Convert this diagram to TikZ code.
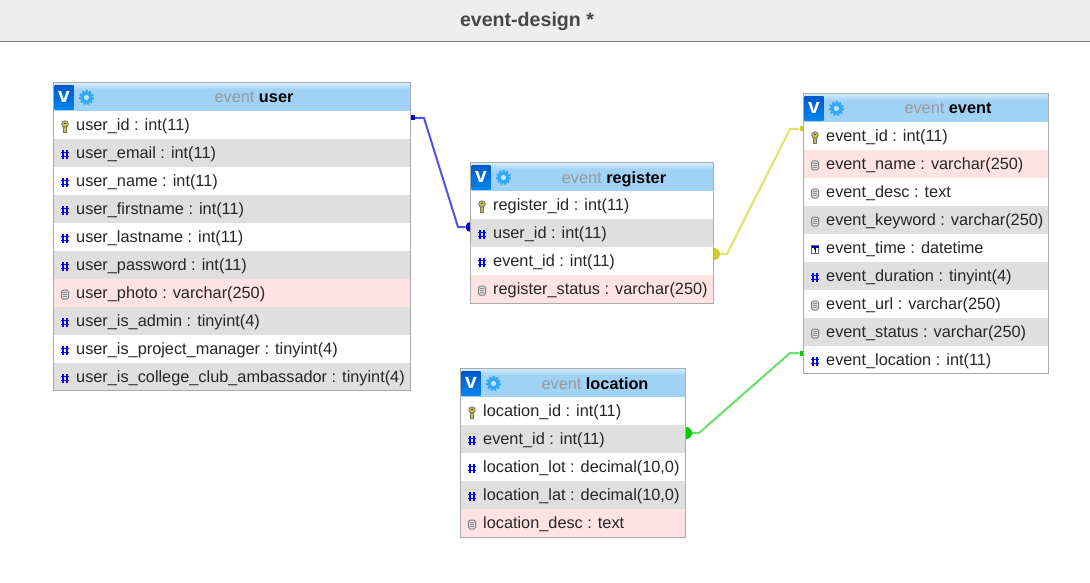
\documentclass[tikz,border=0pt]{standalone}
\usepackage{fontspec}
\setmainfont{Liberation Sans}
\usepackage{xcolor}
\definecolor{rowplain}{HTML}{FFFFFF}
\definecolor{rowgrey}{HTML}{DFDFDF}
\definecolor{rowpink}{HTML}{FFE3E3}
\definecolor{headblue}{HTML}{A0D2F5}
\definecolor{headlight}{HTML}{D4EBFB}
\definecolor{boxblue}{HTML}{0068EE}
\definecolor{gearblue}{HTML}{2FA9F8}
\definecolor{framegrey}{HTML}{AAAAAA}
\definecolor{barcol}{HTML}{EEEEEE}
\definecolor{barline}{HTML}{777777}
\definecolor{bluelink}{HTML}{5252E0}
\definecolor{yellowlink}{HTML}{E2E268}
\definecolor{greenlink}{HTML}{66E066}
\definecolor{keyyellow}{HTML}{C8C040}

\tikzset{
    rowtext/.style={anchor=base west, inner sep=0pt, font=\fontsize{16.3}{19}\selectfont, text=black!85},
    headtext/.style={anchor=base, inner sep=0pt, font=\fontsize{16.3}{19}\selectfont},
    endsquare/.style={rectangle, inner sep=0pt, minimum size=5pt},
    enddot/.style={circle, inner sep=0pt, minimum size=12pt},
    link/.style={line width=2pt},
    pics/keyicon/.style={code={
        \draw[fill=keyyellow, draw=black!55, line width=.8pt] (-1.6,-1) rectangle (1.6,5.5);
        \draw[fill=keyyellow, draw=black!55, line width=.8pt] (0,-2.5) ellipse (3.3 and 3.2);
        \fill[black!70] (-1,-3.6) rectangle (1,-2.5);
    }},
    pics/hashicon/.style={code={
        \draw[blue, line width=1.5pt] (-2,-4.5) -- (-2,4.5) (2,-4.5) -- (2,4.5)
            (-4,-2) -- (4,-2) (-4,2) -- (4,2);
    }},
    pics/texticon/.style={code={
        \draw[fill=black!12, draw=black!50, line width=1pt, rounded corners=1.5pt] (-3.5,-4.5) rectangle (3.5,4.5);
        \draw[black!45, line width=.8pt] (-2,-2) -- (2,-2) (-2,0) -- (2,0) (-2,2) -- (2,2);
    }},
    pics/dateicon/.style={code={
        \draw[fill=white, draw=black!60, line width=.8pt] (-3.5,-4) rectangle (3.5,4);
        \fill[blue!75!black] (-3.5,-4) rectangle (3.5,-1.8);
        \draw[black, line width=1pt] (-.8,-.6) -- (.3,-.9) -- (.3,3);
    }},
    pics/boxicon/.style={code={
        \shade[top color=boxblue!85!black, bottom color=boxblue!80!cyan] (0,0) rectangle (19,24);
        \node[inner sep=0pt, text=white, font=\bfseries\fontsize{21}{21}\selectfont] (#1-v) at (9.5,11) {v};
        \draw[gearblue, line width=2pt, dash pattern=on 2pt off 1.7pt] (32,12) circle (6.5);
        \fill[gearblue] (32,12) circle (6);
        \fill[headblue!60!white] (32,12) circle (2.6);
    }}
}

% name, x, y, width, height, title, rows
\newcommand{\dbtable}[7]{
    \fill[headblue] (#2,#3) rectangle ++(#4,29);
    \shade[top color=headlight, bottom color=headblue] (#2,#3) rectangle ++(#4,7);
    \pic at (#2+1,#3+3) {boxicon=#1};
    \node[headtext] (#1-head) at (#2+#4/2+22,#3+20.5) {\textcolor{black!40}{event} \textbf{\textcolor{black}{#6}}};
    \foreach \kind/\rowfill/\rowlabel [count=\i] in {#7}{
        \fill[\rowfill] (#2,#3+.5+28*\i) rectangle ++(#4,28);
        \pic at (#2+11.5,#3+16+28*\i) {\kind};
        \node[rowtext] (#1-\i) at (#2+22.5,#3+20+28*\i) {\rowlabel};
    }
    \draw[framegrey, line width=1pt] (#2,#3) rectangle ++(#4,#5);
}

\begin{document}
\begin{tikzpicture}[x=1pt, y=-1pt]
    \useasboundingbox (0,0) rectangle (1090,583);
    \fill[white] (0,0) rectangle (1090,583);

    \fill[barcol] (0,0) rectangle (1090,41);
    \draw[barline, line width=1pt] (0,41.5) -- (1090,41.5);
    \node[inner sep=0pt, text=black!72, font=\bfseries\fontsize{19.6}{24}\selectfont] (title) at (527,21.5) {event-design *};

    % link ends, the tables go over them
    \node[endsquare, fill=blue!80!black] (usersq) at (412.5,118) {};
    \node[enddot, minimum size=10pt, fill=blue!85!black] (registerdot) at (470.5,227) {};
    \node[enddot, fill=yellow!80!black] (registerout) at (714,254) {};
    \node[endsquare, fill=yellow!80!black] (eventsq) at (802,129) {};
    \node[enddot, fill=green!80!black] (locationdot) at (686,433) {};
    \node[endsquare, fill=green!80!black] (eventin) at (802,353) {};

    \draw[link, bluelink] (usersq) -- (424,118) -- (458,227) -- (registerdot);
    \draw[link, yellowlink] (registerout) -- (727,254) -- (790,129) -- (eventsq);
    \draw[link, greenlink] (locationdot) -- (699,433) -- (790,353) -- (eventin);

    \dbtable{user}{53.5}{82.5}{357}{307.5}{user}{
        keyicon/rowplain/{user\_id : int(11)},
        hashicon/rowgrey/{user\_email : int(11)},
        hashicon/rowplain/{user\_name : int(11)},
        hashicon/rowgrey/{user\_firstname : int(11)},
        hashicon/rowplain/{user\_lastname : int(11)},
        hashicon/rowgrey/{user\_password : int(11)},
        texticon/rowpink/{user\_photo : varchar(250)},
        hashicon/rowgrey/{user\_is\_admin : tinyint(4)},
        hashicon/rowplain/{user\_is\_project\_manager : tinyint(4)},
        hashicon/rowgrey/{user\_is\_college\_club\_ambassador : tinyint(4)}}

    \dbtable{register}{470.5}{162.5}{243}{140.5}{register}{
        keyicon/rowplain/{register\_id : int(11)},
        hashicon/rowgrey/{user\_id : int(11)},
        hashicon/rowplain/{event\_id : int(11)},
        texticon/rowpink/{register\_status : varchar(250)}}

    \dbtable{event}{803.5}{93.5}{245}{280}{event}{
        keyicon/rowplain/{event\_id : int(11)},
        texticon/rowpink/{event\_name : varchar(250)},
        texticon/rowplain/{event\_desc : text},
        texticon/rowgrey/{event\_keyword : varchar(250)},
        dateicon/rowplain/{event\_time : datetime},
        hashicon/rowgrey/{event\_duration : tinyint(4)},
        texticon/rowplain/{event\_url : varchar(250)},
        texticon/rowgrey/{event\_status : varchar(250)},
        hashicon/rowplain/{event\_location : int(11)}}

    \dbtable{location}{460.5}{368.5}{225}{169}{location}{
        keyicon/rowplain/{location\_id : int(11)},
        hashicon/rowgrey/{event\_id : int(11)},
        hashicon/rowplain/{location\_lot : decimal(10,0)},
        hashicon/rowgrey/{location\_lat : decimal(10,0)},
        texticon/rowpink/{location\_desc : text}}
\end{tikzpicture}
\end{document}
